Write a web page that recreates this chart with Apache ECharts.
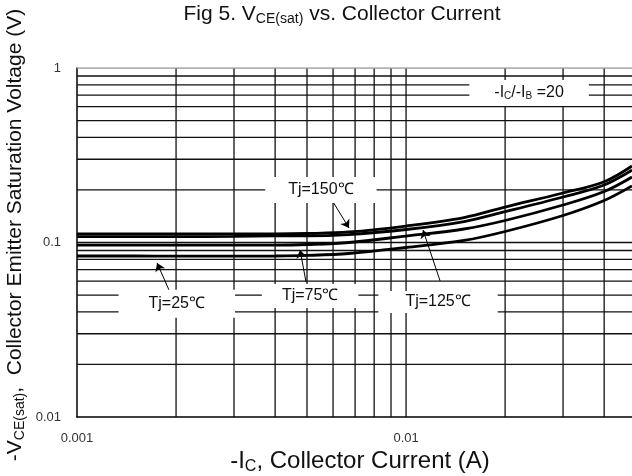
<!DOCTYPE html>
<html>
<head>
<meta charset="utf-8">
<script src="https://cdn.jsdelivr.net/npm/echarts@6/dist/echarts.min.js"></script>
<style>html,body{margin:0;padding:0;background:#fff}#c{width:632px;height:476px}</style>
</head>
<body>
<div id="c"></div>
<script>
// ---- data ----
const current = [0.001, 0.0015, 0.002, 0.003, 0.004, 0.005, 0.0067, 0.01, 0.015, 0.02, 0.03, 0.04, 0.0486];
const vce150 = [0.112, 0.112, 0.112, 0.112, 0.112, 0.1126, 0.1149, 0.1243, 0.139, 0.1597, 0.1922, 0.2231, 0.2745];
const vce125 = [0.108, 0.108, 0.108, 0.1085, 0.109, 0.109, 0.1111, 0.1187, 0.1319, 0.1501, 0.1823, 0.2136, 0.2603];
const vce75  = [0.0967, 0.0967, 0.0967, 0.0967, 0.0967, 0.0974, 0.100, 0.1089, 0.1195, 0.1337, 0.164, 0.196, 0.2373];
const vce25  = [0.0837, 0.0837, 0.0836, 0.0836, 0.0837, 0.0843, 0.0865, 0.0936, 0.1027, 0.1156, 0.1428, 0.174, 0.2108];
const seriesNames = ['Tj=150℃', 'Tj=125℃', 'Tj=75℃', 'Tj=25℃'];

const xTickLabels = ['0.001', '0.01'];
const yTickLabels = ['0.01', '0.1', '1'];
const xGridVals = [0.002,0.003,0.004,0.005,0.006,0.007,0.008,0.009,0.01,0.02,0.03,0.04];
const yGridVals = [0.02,0.03,0.04,0.05,0.06,0.07,0.08,0.09,0.1,0.2,0.3,0.4,0.5,0.6,0.7,0.8,0.9,1];
const X_MIN = 0.001, X_MAX = 0.0486, Y_MIN = 0.01, Y_MAX = 1;

// annotation anchors in data coordinates [current, voltage]
const labelTexts = ['Tj=150℃', '-I{s|C}/-I{s|B} =20', 'Tj=25℃', 'Tj=75℃', 'Tj=125℃'];
const labelAt = [[0.00551, 0.2], [0.02365, 0.719], [0.00201, 0.0445], [0.00511, 0.0494], [0.01251, 0.0456]];
const arrowFrom = [[0.0060, 0.1707], [0.01269, 0.0602], [0.004966, 0.0594], [0.001904, 0.0534]];
const arrowTo   = [[0.006709, 0.1211], [0.01126, 0.1179], [0.004763, 0.0906], [0.001751, 0.0763]];

// ---- chart ----
const chart = echarts.init(document.getElementById('c'), null, {renderer: 'canvas'});
const FONT = '"Liberation Sans", Arial, sans-serif';
const isDecade = v => Math.abs(Math.log10(v) - Math.round(Math.log10(v))) < 1e-6;

const curveData = [vce150, vce125, vce75, vce25].map(arr => current.map((c, i) => [c, arr[i]]));
const pads = [[5, 23], [5, 25], [6, 30], [4, 20], [3, 27]];

const series = [];
// grid lines drawn as plain two-point line series
xGridVals.forEach(v => series.push({
  type: 'line', data: [[v, Y_MIN], [v, Y_MAX]], showSymbol: false, silent: true, animation: false, z: 1,
  lineStyle: {color: '#111', width: 1.3}
}));
yGridVals.forEach(v => series.push({
  type: 'line', data: [[X_MIN, v], [X_MAX, v]], showSymbol: false, silent: true, animation: false, z: 1,
  lineStyle: {color: v === 1 ? '#999' : '#111', width: 1.3}
}));
curveData.forEach((d, i) => {
  series.push({
    name: seriesNames[i], type: 'line', data: d, smooth: 0.35, showSymbol: false,
    lineStyle: {color: '#000', width: 2.8}, z: 3, animation: false
  });
});
series.push({
  type: 'scatter', symbolSize: 2, itemStyle: {color: 'rgba(0,0,0,0)', opacity: 1}, z: 5, silent: true, animation: false,
  data: labelAt.map((p, i) => ({
    value: p,
    label: {
      show: true, position: 'inside', formatter: labelTexts[i],
      backgroundColor: '#fff', padding: pads[i], opacity: 1,
      color: '#111', fontFamily: FONT, fontSize: 16,
      rich: {s: {fontSize: 10, fontFamily: FONT, color: '#111', verticalAlign: 'bottom', lineHeight: 16}}
    }
  }))
});
series.push({
  type: 'line', data: [[X_MIN, Y_MIN]], showSymbol: false, z: 6, silent: true, animation: false,
  lineStyle: {opacity: 0},
  markLine: {
    silent: true, animation: false, symbol: ['none', 'arrow'], symbolSize: 8,
    label: {show: false},
    lineStyle: {color: '#000', width: 1, type: 'solid', opacity: 1},
    itemStyle: {color: '#000'},
    data: arrowFrom.map((f, i) => [{coord: f}, {coord: arrowTo[i]}])
  }
});

chart.setOption({
  backgroundColor: '#fff',
  animation: false,
  grid: {left: 77, top: 68, right: 0, bottom: 59, containLabel: false},
  xAxis: {
    type: 'log', logBase: 10, min: X_MIN, max: X_MAX,
    axisLine: {show: true, lineStyle: {color: '#000', width: 1.5}},
    axisTick: {show: false}, splitLine: {show: false},
    axisLabel: {
      color: '#333', fontSize: 13, fontFamily: FONT, margin: 15, showMaxLabel: false,
      formatter: v => isDecade(v) ? (xTickLabels[Math.round(Math.log10(v)) + 3] || '') : ''
    }
  },
  yAxis: {
    type: 'log', logBase: 10, min: Y_MIN, max: Y_MAX,
    axisLine: {show: true, lineStyle: {color: '#000', width: 1.5}},
    axisTick: {show: false}, splitLine: {show: false},
    axisLabel: {
      color: '#333', fontSize: 13, fontFamily: FONT, margin: 16,
      formatter: v => isDecade(v) ? (yTickLabels[Math.round(Math.log10(v)) + 2] || '') : ''
    }
  },
  graphic: [
    {type: 'text', x: 342, y: 14, silent: true, style: {
      text: '{m|Fig 5. V}{s|CE(sat)}{m| vs. Collector Current}', align: 'center', verticalAlign: 'middle',
      rich: {m: {fontSize: 21, fontFamily: FONT, fill: '#111', lineHeight: 24, verticalAlign: 'middle'},
             s: {fontSize: 14, fontFamily: FONT, fill: '#111', lineHeight: 24, verticalAlign: 'bottom'}}
    }},
    {type: 'text', x: 360, y: 461, silent: true, style: {
      text: '{m|-I}{s|C}{m|, Collector Current (A)}', align: 'center', verticalAlign: 'middle',
      rich: {m: {fontSize: 24, fontFamily: FONT, fill: '#111', lineHeight: 28, verticalAlign: 'middle'},
             s: {fontSize: 16, fontFamily: FONT, fill: '#111', lineHeight: 28, verticalAlign: 'bottom'}}
    }},
    {type: 'text', x: 15, y: 235, rotation: Math.PI / 2, silent: true, style: {
      text: '{m|-V}{s|CE(sat)}{m|,  Collector Emitter Saturation Voltage (V)}', align: 'center', verticalAlign: 'middle',
      rich: {m: {fontSize: 21, fontFamily: FONT, fill: '#111', lineHeight: 25, verticalAlign: 'middle'},
             s: {fontSize: 14, fontFamily: FONT, fill: '#111', lineHeight: 25, verticalAlign: 'bottom'}}
    }}
  ],
  series: series
});
</script>
</body>
</html>
